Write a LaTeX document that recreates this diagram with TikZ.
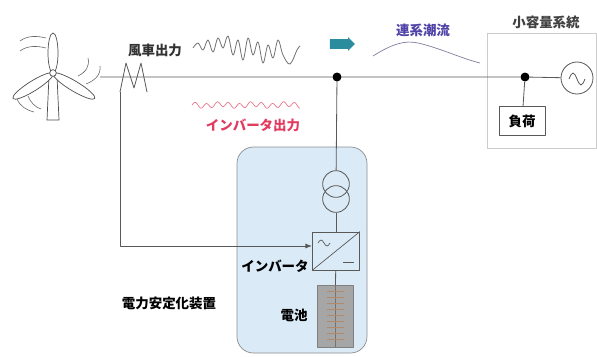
\documentclass[tikz,border=0pt]{standalone}
\usepackage{fontspec}
\setmainfont{Noto Sans CJK JP}
\usetikzlibrary{arrows.meta,positioning,shapes.arrows}
\definecolor{unitblue}{HTML}{DAEBF7}
\definecolor{flowteal}{HTML}{2B8C9E}
\definecolor{invred}{HTML}{E23B5E}
\definecolor{gridviolet}{HTML}{4F43A8}
\definecolor{cellbrown}{HTML}{B08A6A}

\begin{document}
\begin{tikzpicture}[x=0.03cm,y=-0.03cm,line join=round,
  txt/.style={font=\fontsize{11.5}{12}\selectfont\bfseries,inner sep=0pt},
  wire/.style={draw=black!65,line width=0.7pt},
  dot/.style={circle,fill=black,inner sep=0pt,minimum size=0.27cm},
  box/.style={draw=black!65,line width=0.7pt,inner sep=0pt},
  coil/.style={circle,draw=black!65,line width=0.7pt,minimum size=0.8cm,inner sep=0pt},
  blade/.style={draw=black!70,line width=0.6pt,fill=white}]
\useasboundingbox (0,0) rectangle (597,356);

% frames
\draw[black!45,fill=unitblue,rounded corners=14pt,line width=0.6pt] (237,147) rectangle (367,353);
\draw[black!20,line width=0.6pt] (487,33) rectangle (596,148);

% wind turbine
\coordinate (hub) at (53,73);
\draw[black!70,line width=0.6pt] (49,76) -- (47,120) -- (59,120) -- (57,76);
\draw[blade] (53,53) ellipse [x radius=0.15cm,y radius=0.6cm];
\draw[blade,rotate around={32:(33,86)}] (33,86) ellipse [x radius=0.71cm,y radius=0.15cm];
\draw[blade,rotate around={-31:(74,86)}] (74,86) ellipse [x radius=0.73cm,y radius=0.15cm];
\draw[blade] (hub) circle [radius=0.1cm];
\draw[black!60,line width=0.5pt] (20,41) .. controls (28,35) and (38,36) .. (46,38);
\draw[black!60,line width=0.5pt] (20,51) .. controls (28,45) and (38,46) .. (46,48);
\draw[black!60,line width=0.5pt] (17,99) .. controls (20,106) and (26,110) .. (34,112);
\draw[black!60,line width=0.5pt] (28,96) .. controls (31,103) and (35,107) .. (41,109);
\draw[black!60,line width=0.5pt] (88,58) .. controls (90,66) and (86,72) .. (78,76);
\draw[black!60,line width=0.5pt] (100,66) .. controls (101,74) and (96,80) .. (86,84);

% nodes
\coordinate (wt) at (100,77);
\coordinate (sense) at (120,92);
\node[dot] (tap) at (337,77) {};
\node[dot] (bus) at (525,77) {};
\node[coil,minimum size=0.96cm] (src) at (577,78) {};
\node[box,fill=white,minimum width=1.38cm,minimum height=0.87cm,txt] (load) at (522,121) {負荷};
\node[coil] (tr1) at (336,184) {};
\node[coil] (tr2) at (336,199) {};
\node[box,minimum width=1.41cm,minimum height=1.14cm] (inv) at (336,251) {};
\node[draw=black!50,fill=black!35,minimum width=1.08cm,minimum height=1.86cm,inner sep=0pt] (bat) at (335,316) {};
\node[single arrow,fill=flowteal,minimum height=0.75cm,inner xsep=0pt,inner ysep=0.14cm,
  single arrow head extend=0.06cm] (flow) at (340,44) {};

% wiring
\draw[wire] (wt) -- (tap) -- (bus) -- (src);
\draw[wire] (tap) -- (tr1);
\draw[wire] (tr2) -- (inv);
\draw[wire] (inv) -- (bat);
\draw[wire] (bus) -- (load);
\draw[wire] (sense) -- (126,63) -- (134,88) -- (141,63) -- (147,92);
\draw[wire,-{Latex[length=2mm]}] (sense) |- ([yshift=0.15cm]inv.west);

% inverter, source and cells
\draw[black!65,line width=0.6pt] (inv.south west) -- (inv.north east);
\draw[black!65,line width=0.6pt] (318,243) sin (321,240) cos (324,243) sin (327,246) cos (330,243);
\draw[black!65,line width=0.6pt] (343,262) -- (354,262);
\draw[black!65,line width=0.7pt] (569,79) sin (573,73) cos (577,79) sin (581,85) cos (585,79);
\draw[black!55] (bat.north) -- (bat.south);
\foreach \yy in {291,297,...,339}
  \draw[cellbrown,line width=0.8pt] (327,\yy) -- (344,\yy);

% waveforms
\draw[black!55,line width=0.7pt] plot[smooth,tension=0.6] coordinates {
  (193,48) (198,43) (203,50) (208,40) (213,52) (218,38) (223,48) (228,36)
  (233,55) (238,40) (243,60) (248,38) (253,55) (258,42) (263,63) (268,45)
  (273,58) (278,40) (283,55) (290,64) (297,50) (300,46)};
\draw[invred!70,line width=0.6pt] plot[domain=192:300,samples=90,smooth]
  (\x,{105+2.5*sin(32.7*\x)+1*sin(11*\x)});
\draw[black!45!gridviolet!60,line width=0.6pt] (373,56) .. controls (392,44) and (405,40) .. (418,43)
  .. controls (440,48) and (460,58) .. (480,63);

% labels
\node[txt,text=black!80] (windlbl) at (155,50) {風車出力};
\node[txt,text=invred] (invoutlbl) at (253,125) {インバータ出力};
\node[txt,text=gridviolet] (flowlbl) at (423,30) {連系潮流};
\node[txt,text=black!75] (gridlbl) at (546,22) {小容量系統};
\node[txt] (invlbl) at (275,266) {インバータ};
\node[txt] (batlbl) at (294,315) {電池};
\node[txt] (unitlbl) at (169,303) {電力安定化装置};
\end{tikzpicture}
\end{document}
